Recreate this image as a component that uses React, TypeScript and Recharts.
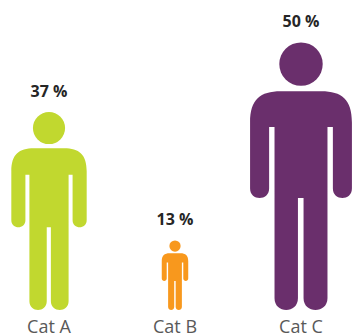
import React from "react";
import { BarChart, Bar, XAxis, YAxis, LabelList } from "recharts";

const categories = ["Cat A", "Cat B", "Cat C"];
const shares = [37, 13, 50];
const colors = ["#C1D82F", "#F8981D", "#6A2F6C"];
const data = categories.map((name, i) => ({ name, value: shares[i], fill: colors[i] }));

const ASPECT = 0.38;

function Person(props: any) {
  const { x, y, width, height, fill } = props;
  const w = height * ASPECT;
  const h = height;
  const left = x + width / 2 - w / 2;
  const X = (f: number) => (left + f * w).toFixed(2);
  const Y = (f: number) => (y + f * h).toFixed(2);
  const armR = 0.0935;
  const legR = 0.115;
  const ry = (armR * w) / h;
  const rl = (legR * w) / h;
  const armEnd = 0.5825 - ry;
  const armCtl = 0.5825 + ry / 3;
  const legEnd = 1 - rl;
  const legCtl = 1 + rl / 3;
  const d = [
    `M${X(0.3)} ${Y(0.184)}`,
    `L${X(0.7)} ${Y(0.184)}`,
    `C${X(0.9)} ${Y(0.184)} ${X(1)} ${Y(0.215)} ${X(1)} ${Y(0.3)}`,
    `L${X(1)} ${Y(armEnd)}`,
    `C${X(1)} ${Y(armCtl)} ${X(1 - 2 * armR)} ${Y(armCtl)} ${X(1 - 2 * armR)} ${Y(armEnd)}`,
    `L${X(1 - 2 * armR)} ${Y(0.3175)}`,
    `L${X(0.76)} ${Y(0.3175)}`,
    `L${X(0.76)} ${Y(legEnd)}`,
    `C${X(0.76)} ${Y(legCtl)} ${X(0.525)} ${Y(legCtl)} ${X(0.525)} ${Y(legEnd)}`,
    `L${X(0.525)} ${Y(0.5825)}`,
    `L${X(0.47)} ${Y(0.5825)}`,
    `L${X(0.47)} ${Y(legEnd)}`,
    `C${X(0.47)} ${Y(legCtl)} ${X(0.24)} ${Y(legCtl)} ${X(0.24)} ${Y(legEnd)}`,
    `L${X(0.24)} ${Y(0.3175)}`,
    `L${X(2 * armR)} ${Y(0.3175)}`,
    `L${X(2 * armR)} ${Y(armEnd)}`,
    `C${X(2 * armR)} ${Y(armCtl)} ${X(0)} ${Y(armCtl)} ${X(0)} ${Y(armEnd)}`,
    `L${X(0)} ${Y(0.3)}`,
    `C${X(0)} ${Y(0.215)} ${X(0.1)} ${Y(0.184)} ${X(0.3)} ${Y(0.184)}`,
    "Z",
  ].join(" ");
  return (
    <g>
      <circle cx={left + w / 2} cy={y + 0.0825 * h} r={0.081 * h} fill={fill} />
      <path d={d} fill={fill} />
    </g>
  );
}

export default function App() {
  return (
    <div style={{ position: "absolute", left: 0, top: 0, width: 352, height: 335 }}>
      <BarChart
        width={352}
        height={335}
        data={data}
        margin={{ top: 42, right: -12, bottom: 0, left: -14 }}
        barCategoryGap={0}
      >
        <XAxis
          dataKey="name"
          axisLine={false}
          tickLine={false}
          height={25}
          interval={0}
          tickMargin={4}
          tick={{ fill: "#595959", fontSize: 18, fontFamily: "Open Sans" }}
        />
        <YAxis hide domain={[0, 50]} />
        <Bar dataKey="value" isAnimationActive={false} shape={<Person />}>
          <LabelList
            dataKey="value"
            position="top"
            offset={15}
            formatter={(v: any) => `${v} %`}
            fill="#262626"
            style={{ fontSize: 16, fontWeight: 700, fontFamily: "Open Sans" }}
          />
        </Bar>
      </BarChart>
    </div>
  );
}
